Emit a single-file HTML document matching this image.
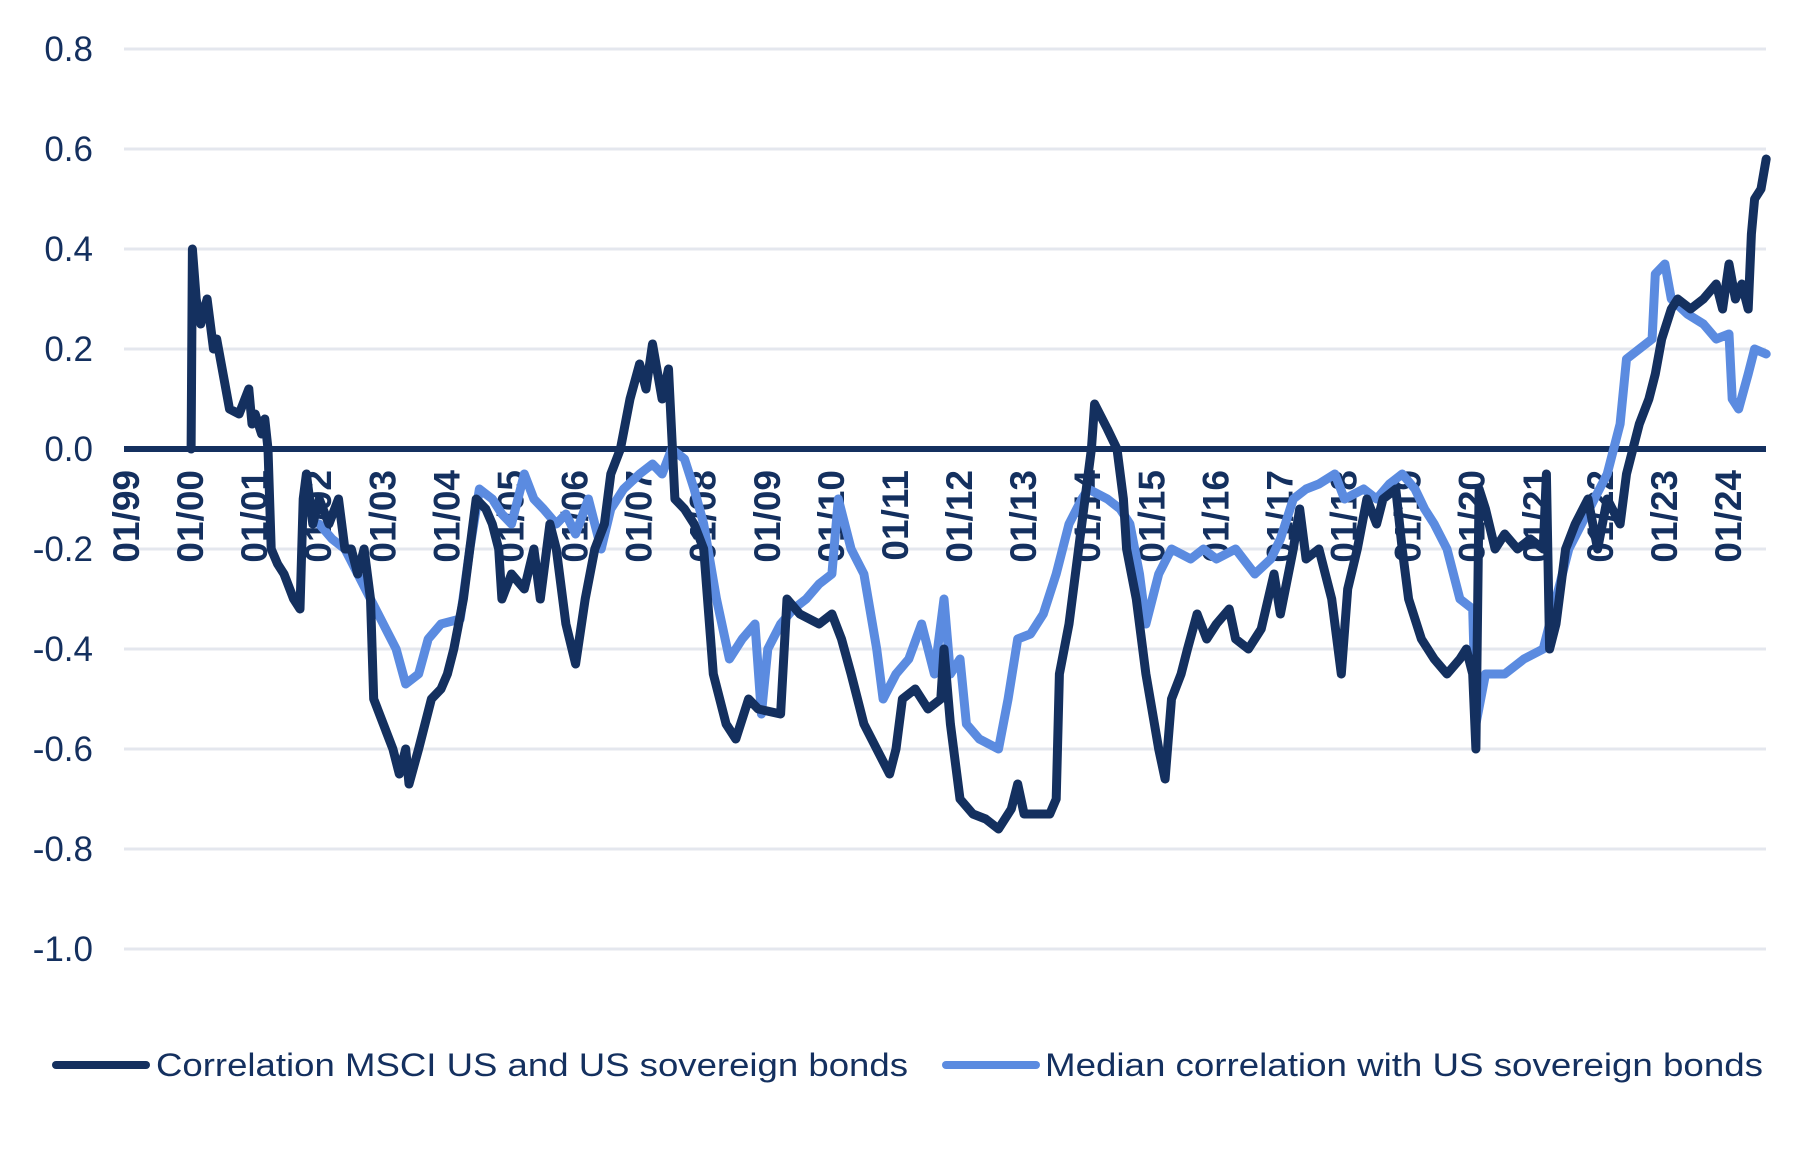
<!DOCTYPE html>
<html><head><meta charset="utf-8"><style>
html,body{margin:0;padding:0;background:#fff}
svg{display:block;font-family:"Liberation Sans",Arial,sans-serif}
</style></head><body>
<svg id="chart" width="1811" height="1155" viewBox="0 0 1811 1155" xmlns="http://www.w3.org/2000/svg">
<g id="grid"></g>
<g id="yaxis"></g>
<g id="xaxis"></g>
<g id="series"></g>
<g id="legend">
 <g>
  <line x1="56" y1="1065" x2="146" y2="1065" stroke="#14305f" stroke-width="8" stroke-linecap="round"/>
  <text x="156" y="1076" font-size="32" fill="#14305f" textLength="752" lengthAdjust="spacingAndGlyphs">Correlation MSCI US and US sovereign bonds</text>
 </g>
 <g>
  <line x1="946" y1="1065" x2="1036" y2="1065" stroke="#5b8be0" stroke-width="8" stroke-linecap="round"/>
  <text x="1045" y="1076" font-size="32" fill="#14305f" textLength="718" lengthAdjust="spacingAndGlyphs">Median correlation with US sovereign bonds</text>
 </g>
</g>
</svg>
<script>
const yTicks=[0.8,0.6,0.4,0.2,0.0,-0.2,-0.4,-0.6,-0.8,-1.0];
const xTickYears=[1999,2000,2001,2002,2003,2004,2005,2006,2007,2008,2009,2010,2011,2012,2013,2014,2015,2016,2017,2018,2019,2020,2021,2022,2023,2024];
const msciDates=[2000.0,2000.02,2000.08,2000.15,2000.25,2000.35,2000.4,2000.5,2000.6,2000.75,2000.9,2000.95,2001.0,2001.1,2001.15,2001.2,2001.25,2001.35,2001.45,2001.6,2001.7,2001.75,2001.8,2001.9,2002.0,2002.15,2002.3,2002.4,2002.5,2002.6,2002.7,2002.8,2002.85,2003.0,2003.15,2003.25,2003.35,2003.4,2003.55,2003.75,2003.9,2004.0,2004.1,2004.25,2004.35,2004.45,2004.6,2004.7,2004.8,2004.85,2005.0,2005.2,2005.35,2005.45,2005.6,2005.7,2005.85,2006.0,2006.15,2006.3,2006.45,2006.55,2006.7,2006.85,2007.0,2007.1,2007.2,2007.35,2007.45,2007.55,2007.7,2007.85,2008.0,2008.15,2008.35,2008.5,2008.7,2008.85,2009.2,2009.3,2009.5,2009.8,2010.0,2010.15,2010.3,2010.5,2010.7,2010.9,2011.0,2011.1,2011.3,2011.5,2011.7,2011.75,2011.85,2012.0,2012.2,2012.4,2012.6,2012.8,2012.9,2013.0,2013.4,2013.5,2013.55,2013.7,2013.85,2013.95,2014.05,2014.1,2014.3,2014.45,2014.55,2014.6,2014.75,2014.9,2015.1,2015.2,2015.3,2015.45,2015.55,2015.7,2015.85,2016.0,2016.2,2016.3,2016.5,2016.7,2016.9,2017.0,2017.2,2017.3,2017.4,2017.6,2017.7,2017.8,2017.95,2018.05,2018.2,2018.35,2018.5,2018.6,2018.8,2018.9,2019.0,2019.2,2019.4,2019.6,2019.8,2019.9,2020.0,2020.05,2020.1,2020.2,2020.35,2020.5,2020.7,2020.9,2021.1,2021.15,2021.2,2021.3,2021.45,2021.6,2021.8,2021.95,2022.1,2022.3,2022.4,2022.5,2022.6,2022.75,2022.85,2022.95,2023.1,2023.2,2023.4,2023.6,2023.8,2023.9,2024.0,2024.1,2024.2,2024.3,2024.35,2024.4,2024.5,2024.58];
const msciValues=[0.0,0.40,0.30,0.25,0.30,0.20,0.22,0.15,0.08,0.07,0.12,0.05,0.07,0.03,0.06,0.0,-0.20,-0.23,-0.25,-0.30,-0.32,-0.10,-0.05,-0.15,-0.10,-0.15,-0.10,-0.20,-0.20,-0.25,-0.20,-0.30,-0.50,-0.55,-0.60,-0.65,-0.60,-0.67,-0.60,-0.50,-0.48,-0.45,-0.40,-0.30,-0.20,-0.10,-0.12,-0.15,-0.20,-0.30,-0.25,-0.28,-0.20,-0.30,-0.15,-0.20,-0.35,-0.43,-0.30,-0.20,-0.15,-0.05,0.0,0.10,0.17,0.12,0.21,0.10,0.16,-0.10,-0.12,-0.15,-0.20,-0.45,-0.55,-0.58,-0.50,-0.52,-0.53,-0.30,-0.33,-0.35,-0.33,-0.38,-0.45,-0.55,-0.60,-0.65,-0.60,-0.50,-0.48,-0.52,-0.50,-0.40,-0.55,-0.70,-0.73,-0.74,-0.76,-0.72,-0.67,-0.73,-0.73,-0.70,-0.45,-0.35,-0.20,-0.10,0.0,0.09,0.04,0.0,-0.10,-0.20,-0.30,-0.45,-0.60,-0.66,-0.50,-0.45,-0.40,-0.33,-0.38,-0.35,-0.32,-0.38,-0.40,-0.36,-0.25,-0.33,-0.20,-0.12,-0.22,-0.20,-0.25,-0.30,-0.45,-0.28,-0.20,-0.10,-0.15,-0.10,-0.08,-0.20,-0.30,-0.38,-0.42,-0.45,-0.42,-0.40,-0.45,-0.60,-0.08,-0.12,-0.20,-0.17,-0.20,-0.18,-0.20,-0.05,-0.40,-0.35,-0.20,-0.15,-0.10,-0.20,-0.10,-0.15,-0.05,0.0,0.05,0.10,0.15,0.22,0.28,0.30,0.28,0.30,0.33,0.28,0.37,0.30,0.33,0.28,0.43,0.50,0.52,0.58];
const medianDates=[2002.0,2002.2,2002.4,2002.6,2002.8,2003.0,2003.2,2003.35,2003.55,2003.7,2003.9,2004.2,2004.35,2004.5,2004.7,2004.85,2005.0,2005.2,2005.35,2005.5,2005.7,2005.85,2006.0,2006.2,2006.4,2006.55,2006.75,2007.0,2007.2,2007.35,2007.5,2007.7,2007.85,2008.0,2008.2,2008.4,2008.6,2008.8,2008.9,2009.0,2009.2,2009.4,2009.6,2009.8,2010.0,2010.1,2010.3,2010.5,2010.7,2010.8,2011.0,2011.2,2011.4,2011.6,2011.75,2011.85,2012.0,2012.1,2012.3,2012.6,2012.75,2012.9,2013.1,2013.3,2013.5,2013.7,2013.9,2014.0,2014.3,2014.5,2014.65,2014.8,2014.9,2015.1,2015.3,2015.6,2015.8,2016.0,2016.3,2016.6,2016.85,2017.0,2017.2,2017.4,2017.6,2017.85,2018.0,2018.3,2018.5,2018.7,2018.9,2019.1,2019.25,2019.4,2019.6,2019.8,2020.0,2020.05,2020.2,2020.5,2020.8,2021.1,2021.3,2021.5,2021.7,2021.9,2022.1,2022.3,2022.4,2022.6,2022.8,2022.85,2023.0,2023.1,2023.35,2023.6,2023.8,2024.0,2024.05,2024.15,2024.3,2024.4,2024.58];
const medianValues=[-0.15,-0.18,-0.20,-0.25,-0.30,-0.35,-0.40,-0.47,-0.45,-0.38,-0.35,-0.34,-0.20,-0.08,-0.10,-0.13,-0.15,-0.05,-0.10,-0.12,-0.15,-0.13,-0.17,-0.10,-0.20,-0.12,-0.08,-0.05,-0.03,-0.05,0.0,-0.02,-0.08,-0.15,-0.30,-0.42,-0.38,-0.35,-0.53,-0.40,-0.35,-0.32,-0.30,-0.27,-0.25,-0.10,-0.20,-0.25,-0.40,-0.50,-0.45,-0.42,-0.35,-0.45,-0.30,-0.45,-0.42,-0.55,-0.58,-0.60,-0.50,-0.38,-0.37,-0.33,-0.25,-0.15,-0.10,-0.08,-0.10,-0.12,-0.15,-0.25,-0.35,-0.25,-0.20,-0.22,-0.20,-0.22,-0.20,-0.25,-0.22,-0.18,-0.10,-0.08,-0.07,-0.05,-0.10,-0.08,-0.10,-0.07,-0.05,-0.08,-0.12,-0.15,-0.20,-0.30,-0.32,-0.55,-0.45,-0.45,-0.42,-0.40,-0.30,-0.20,-0.15,-0.10,-0.05,0.05,0.18,0.20,0.22,0.35,0.37,0.30,0.27,0.25,0.22,0.23,0.10,0.08,0.15,0.20,0.19];

const NS='http://www.w3.org/2000/svg';
const X0=124,X1=1766;
function xScale(t){return 127+(t-1999)*64.08;}
function yScale(v){return 449-v*500;}
function mk(tag,attrs,parent){const e=document.createElementNS(NS,tag);for(const k in attrs)e.setAttribute(k,attrs[k]);parent.appendChild(e);return e;}

const grid=document.getElementById('grid'),yax=document.getElementById('yaxis'),xax=document.getElementById('xaxis'),ser=document.getElementById('series');
yTicks.forEach(v=>{
  if(Math.abs(v)>1e-9){
    const g=mk('line',{x1:X0,x2:X1,y1:yScale(v),y2:yScale(v),stroke:'#e4e7ee','stroke-width':3},grid);
    
    
  }
  const t=mk('text',{x:93,y:yScale(v)+12,'text-anchor':'end','font-size':35,fill:'#14305f'},yax);
  t.textContent=v.toFixed(1);
  
  
});
xTickYears.forEach(y=>{
  const x=xScale(y);
  const t=mk('text',{transform:'translate('+(x+12)+',470) rotate(-90)','text-anchor':'end','font-size':37,'font-weight':'bold',fill:'#14305f'},xax);
  t.textContent='01/'+String(y%100).padStart(2,'0');
  
  
});
function path(dates,vals){return dates.map((d,i)=>(i?'L':'M')+xScale(d).toFixed(1)+','+yScale(vals[i]).toFixed(1)).join('');}
const zl=mk('line',{x1:X0,x2:X1,y1:yScale(0),y2:yScale(0),stroke:'#14305f','stroke-width':6},ser);


const p2=mk('path',{d:path(medianDates,medianValues),fill:'none',stroke:'#5b8be0','stroke-width':9,'stroke-linejoin':'round','stroke-linecap':'round'},ser);


const p1=mk('path',{d:path(msciDates,msciValues),fill:'none',stroke:'#14305f','stroke-width':9,'stroke-linejoin':'round','stroke-linecap':'round'},ser);


</script>
</body></html>
